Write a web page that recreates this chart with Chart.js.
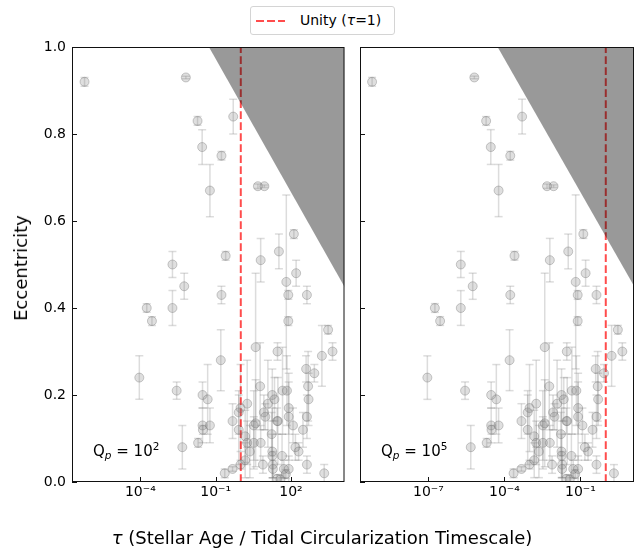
<!DOCTYPE html>
<html>
<head>
<meta charset="utf-8">
<script src="https://cdn.jsdelivr.net/npm/chart.js@4.4.1/dist/chart.umd.min.js"></script>
<style>
  html, body { margin: 0; padding: 0; background: #fff; }
  #wrap { position: relative; width: 644px; height: 552px; font-family: 'DejaVu Sans', sans-serif; color: #000; overflow: hidden; }
  canvas { position: absolute; top: 0; }
  #c1 { left: 0; }
  #c2 { left: 350px; }
  .qlabel { position: absolute; top: 444px; font-size: 15px; line-height: 15px; white-space: nowrap; }
  .qlabel .sub { font-size: 10.5px; font-style: italic; position: relative; top: 3px; }
  .qlabel .sup { font-size: 10.5px; position: relative; top: -6px; }
  #legend { position: absolute; left: 250px; top: 6px; width: 145px; height: 29px; box-sizing: border-box;
            border: 1px solid #d4d4d4; border-radius: 3px; background: #fff; }
  #legend .dash { position: absolute; left: 5px; top: 13px; width: 29px; height: 2px;
            background: repeating-linear-gradient(to right, rgba(255,0,0,0.7) 0 7.7px, transparent 7.7px 11px); }
  #legend .txt { position: absolute; left: 49px; top: 6px; font-size: 14px; line-height: 14px; white-space: nowrap; }
  #xlabel { position: absolute; left: 0; width: 644px; top: 529px; text-align: center; font-size: 18px; line-height: 18px; white-space: nowrap; }
  #ylabel { position: absolute; left: 21px; top: 268px; transform: translate(-50%, -50%) rotate(-90deg);
            font-size: 18px; line-height: 18px; white-space: nowrap; }
</style>
</head>
<body>
<div id="wrap">
  <canvas id="c1" width="350" height="552"></canvas>
  <canvas id="c2" width="294" height="552"></canvas>
  <div id="legend"><span class="dash"></span><span class="txt">Unity (<i>τ</i>=1)</span></div>
  <div class="qlabel" style="left:93px">Q<span class="sub">p</span> = 10<span class="sup">2</span></div>
  <div class="qlabel" style="left:381px">Q<span class="sub">p</span> = 10<span class="sup">5</span></div>
  <div id="xlabel"><i>τ</i> (Stellar Age / Tidal Circularization Timescale)</div>
  <div id="ylabel">Eccentricity</div>
</div>
<script>
// 数据: τ (Q_p = 10^2 与 10^5), 偏心率及其误差
const tauQ2 = [
    6.0e-7, 6.5e-3, 1.9e-2, 5.0e-1, 2.9e-2, 1.7e-1, 5.9e-2, 4.8e0, 8.7e0, 1.3e2,
    1.9e-3, 5.6e-3, 2.5e-1, 6.2e0, 3.3e1, 1.6e2, 6.5e1, 4.3e2, 7.8e1, 7.8e1,
    1.7e-1, 1.8e-4, 2.9e-4, 1.9e-3, 3.0e3, 2.9e1, 4.5e3, 1.7e3, 4.0e2, 8.5e2,
    4.8e2, 9.1e-5, 2.8e-3, 4.7e-3, 2.0e-2, 3.0e-2, 3.0e-2, 3.1e-2, 4.8e-2, 5.9e-2,
    1.6e-1, 2.3e-1, 4.7e-1, 9.8e-1, 4.7e-1, 8.3e-1, 9.8e-1, 1.8e0, 8.3e-1, 1.5e0,
    1.8e0, 2.3e0, 1.5e0, 3.9e0, 3.3e0, 3.9e0, 3.3e0, 6.2e0, 5.9e0, 8.3e0,
    9.5e0, 1.8e1, 2.2e1, 2.8e1, 3.0e1, 1.7e1, 1.8e1, 1.8e1, 1.9e1, 1.9e1,
    2.8e1, 3.8e1, 4.4e1, 4.6e1, 6.9e1, 8.1e1, 8.1e1, 1.2e2, 5.2e1, 8.1e1,
    6.2e1, 1.5e2, 2.0e2, 3.0e2, 4.3e2, 5.0e2, 4.3e2, 2.1e3, 1.2e1, 7.6e0
];
const tauQ5 = [
    6.0e-10, 6.5e-6, 1.9e-5, 5.0e-4, 2.9e-5, 1.7e-4, 5.9e-5, 4.8e-3, 8.7e-3, 1.3e-1,
    1.9e-6, 5.6e-6, 2.5e-4, 6.2e-3, 3.3e-2, 1.6e-1, 6.5e-2, 4.3e-1, 7.8e-2, 7.8e-2,
    1.7e-4, 1.8e-7, 2.9e-7, 1.9e-6, 3.0e0, 2.9e-2, 4.5e0, 1.7e0, 4.0e-1, 8.5e-1,
    4.8e-1, 9.1e-8, 2.8e-6, 4.7e-6, 2.0e-5, 3.0e-5, 3.0e-5, 3.1e-5, 4.8e-5, 5.9e-5,
    1.6e-4, 2.3e-4, 4.7e-4, 9.8e-4, 4.7e-4, 8.3e-4, 9.8e-4, 1.8e-3, 8.3e-4, 1.5e-3,
    1.8e-3, 2.3e-3, 1.5e-3, 3.9e-3, 3.3e-3, 3.9e-3, 3.3e-3, 6.2e-3, 5.9e-3, 8.3e-3,
    9.5e-3, 1.8e-2, 2.2e-2, 2.8e-2, 3.0e-2, 1.7e-2, 1.8e-2, 1.8e-2, 1.9e-2, 1.9e-2,
    2.8e-2, 3.8e-2, 4.4e-2, 4.6e-2, 6.9e-2, 8.1e-2, 8.1e-2, 1.2e-1, 5.2e-2, 8.1e-2,
    6.2e-2, 1.5e-1, 2.0e-1, 3.0e-1, 4.3e-1, 5.0e-1, 4.3e-1, 2.1e0, 1.2e-2, 7.6e-3
];
const eccentricity = [
    0.92, 0.93, 0.83, 0.84, 0.77, 0.75, 0.67, 0.68, 0.68, 0.57,
    0.50, 0.45, 0.52, 0.51, 0.53, 0.48, 0.46, 0.43, 0.43, 0.37,
    0.43, 0.40, 0.37, 0.40, 0.35, 0.30, 0.30, 0.29, 0.26, 0.25,
    0.22, 0.24, 0.21, 0.08, 0.09, 0.20, 0.13, 0.12, 0.19, 0.13,
    0.28, 0.02, 0.03, 0.04, 0.14, 0.16, 0.17, 0.18, 0.12, 0.105,
    0.09, 0.07, 0.05, 0.31, 0.13, 0.135, 0.09, 0.09, 0.22, 0.16,
    0.15, 0.20, 0.19, 0.14, 0.14, 0.11, 0.07, 0.06, 0.04, 0.03,
    0.007, 0.006, 0.06, 0.21, 0.21, 0.17, 0.15, 0.13, 0.03, 0.03,
    0.018, 0.08, 0.07, 0.12, 0.15, 0.19, 0.04, 0.02, 0.18, 0.04
];
const eccErr = [
    0.01, 0.003, 0.01, 0.04, 0.04, 0.01, 0.06, 0.005, 0.003, 0.01,
    0.03, 0.03, 0.01, 0.05, 0.04, 0.03, 0.20, 0.02, 0.01, 0.01,
    0.02, 0.01, 0.01, 0.04, 0.01, 0.02, 0.02, 0.07, 0.03, 0.02,
    0.08, 0.05, 0.02, 0.05, 0.01, 0.03, 0.04, 0.01, 0.08, 0.04,
    0.07, 0.01, 0.005, 0.01, 0.04, 0.05, 0.10, 0.10, 0.08, 0.06,
    0.05, 0.06, 0.04, 0.17, 0.08, 0.10, 0.06, 0.04, 0.10, 0.04,
    0.03, 0.06, 0.05, 0.03, 0.10, 0.05, 0.10, 0.05, 0.03, 0.02,
    0.01, 0.01, 0.05, 0.10, 0.08, 0.06, 0.10, 0.04, 0.02, 0.03,
    0.01, 0.03, 0.02, 0.04, 0.05, 0.06, 0.02, 0.02, 0.10, 0.02
];

// τ = 1 参考线
const unityTau = [1, 1];
const unityEcc = [0, 1];

// 灰色区域边界
const boundaryTauQ2 = [5.4e-2, 1e5];
const boundaryTauQ5 = [5.4e-5, 1e2];
const boundaryEcc = [1.0, 0.36];

// 刻度
const xTicksQ2 = [1e-4, 1e-1, 1e2];
const xTickLabelsQ2 = ['10⁻⁴', '10⁻¹', '10²'];
const xTicksQ5 = [1e-7, 1e-4, 1e-1];
const xTickLabelsQ5 = ['10⁻⁷', '10⁻⁴', '10⁻¹'];
const yTicks = [0, 0.2, 0.4, 0.6, 0.8, 1.0];
const yTickLabels = ['0.0', '0.2', '0.4', '0.6', '0.8', '1.0'];

Chart.defaults.font.family = "'DejaVu Sans', sans-serif";
Chart.defaults.color = '#000';

// 误差棒
const errorBarPlugin = {
    id: 'errorBars',
    beforeDatasetsDraw(chart) {
        const { ctx, chartArea: a, scales: { x, y } } = chart;
        ctx.save();
        ctx.beginPath();
        ctx.rect(a.left, a.top, a.right - a.left, a.bottom - a.top);
        ctx.clip();
        ctx.strokeStyle = 'rgba(128, 128, 128, 0.28)';
        ctx.lineWidth = 1.5;
        chart.data.datasets.forEach(ds => {
            if (!ds.yErr) return;
            ds.data.forEach((p, i) => {
                const px = x.getPixelForValue(p.x);
                const top = y.getPixelForValue(p.y + ds.yErr[i]);
                const bot = y.getPixelForValue(p.y - ds.yErr[i]);
                ctx.beginPath();
                ctx.moveTo(px, top);
                ctx.lineTo(px, bot);
                ctx.stroke();
                ctx.beginPath();
                ctx.moveTo(px - 4, top);
                ctx.lineTo(px + 4, top);
                ctx.stroke();
                ctx.beginPath();
                ctx.moveTo(px - 4, bot);
                ctx.lineTo(px + 4, bot);
                ctx.stroke();
            });
        });
        ctx.restore();
    }
};

// 边框与朝内刻度
const framePlugin = {
    id: 'frame',
    afterDraw(chart, args, opts) {
        const { ctx, chartArea: a, scales: { x, y } } = chart;
        ctx.save();
        ctx.strokeStyle = '#111';
        ctx.lineWidth = 1;
        ctx.beginPath();
        opts.xTicks.forEach(v => {
            const px = Math.round(x.getPixelForValue(v)) + 0.5;
            ctx.moveTo(px, a.bottom);
            ctx.lineTo(px, a.bottom - 5);
        });
        opts.yTicks.forEach(v => {
            const py = Math.round(y.getPixelForValue(v)) + 0.5;
            ctx.moveTo(a.left, py);
            ctx.lineTo(a.left + 5, py);
        });
        ctx.stroke();
        ctx.strokeRect(a.left + 0.5, a.top + 0.5, a.right - a.left - 1, a.bottom - a.top - 1);
        ctx.restore();
    }
};

function createPanel(canvasId, tau, boundaryTau, xMin, xMax, xTicks, xTickLabels, showYLabels, yWidth, padding) {
    const canvas = document.getElementById(canvasId);

    const points = tau.map((t, i) => ({ x: t, y: eccentricity[i] }));
    const unity = unityTau.map((t, i) => ({ x: t, y: unityEcc[i] }));
    const boundary = boundaryTau.map((t, i) => ({ x: t, y: boundaryEcc[i] }));

    return new Chart(canvas, {
        type: 'scatter',
        data: {
            datasets: [
                {
                    type: 'scatter',
                    data: points,
                    yErr: eccErr,
                    pointRadius: 4.5,
                    backgroundColor: 'rgba(128, 128, 128, 0.25)',
                    borderColor: 'rgba(110, 110, 110, 0.35)',
                    borderWidth: 1,
                    order: 1
                },
                {
                    type: 'line',
                    data: boundary,
                    borderWidth: 0,
                    pointRadius: 0,
                    fill: 'end',
                    backgroundColor: 'rgba(0, 0, 0, 0.4)',
                    order: 2
                },
                {
                    type: 'line',
                    data: unity,
                    borderColor: 'rgba(255, 0, 0, 0.7)',
                    borderWidth: 2,
                    borderDash: [7.7, 3.3],
                    pointRadius: 0,
                    fill: false,
                    order: 3
                }
            ]
        },
        options: {
            responsive: false,
            maintainAspectRatio: false,
            animation: false,
            layout: { padding: padding },
            plugins: {
                legend: { display: false },
                tooltip: { enabled: false },
                frame: { xTicks: xTicks, yTicks: yTicks }
            },
            scales: {
                x: {
                    type: 'logarithmic',
                    min: xMin,
                    max: xMax,
                    afterBuildTicks: s => { s.ticks = xTicks.map(v => ({ value: v })); },
                    afterFit: s => { s.height = 25; },
                    grid: { display: false, drawTicks: false },
                    border: { display: false },
                    ticks: {
                        padding: 2,
                        maxRotation: 0,
                        autoSkip: false,
                        font: { size: 14 },
                        color: '#000',
                        callback: (v, i) => xTickLabels[i]
                    }
                },
                y: {
                    type: 'linear',
                    min: 0,
                    max: 1,
                    afterBuildTicks: s => { s.ticks = yTicks.map(v => ({ value: v })); },
                    afterFit: s => { s.width = yWidth; },
                    grid: { display: false, drawTicks: false },
                    border: { display: false },
                    ticks: {
                        display: showYLabels,
                        padding: 6,
                        font: { size: 14 },
                        color: '#000',
                        callback: (v, i) => yTickLabels[i]
                    }
                }
            }
        },
        plugins: [errorBarPlugin, framePlugin]
    });
}

// 左: Q_p = 10^2, 右: Q_p = 10^5
createPanel('c1', tauQ2, boundaryTauQ2, 1.9e-7, 1.35e4, xTicksQ2, xTickLabelsQ2, true, 72,
    { left: 0, top: 47, right: 4, bottom: 45 });
createPanel('c2', tauQ5, boundaryTauQ5, 2.0e-10, 1.3e1, xTicksQ5, xTickLabelsQ5, false, 10,
    { left: 0, top: 47, right: 10, bottom: 45 });
</script>
</body>
</html>
